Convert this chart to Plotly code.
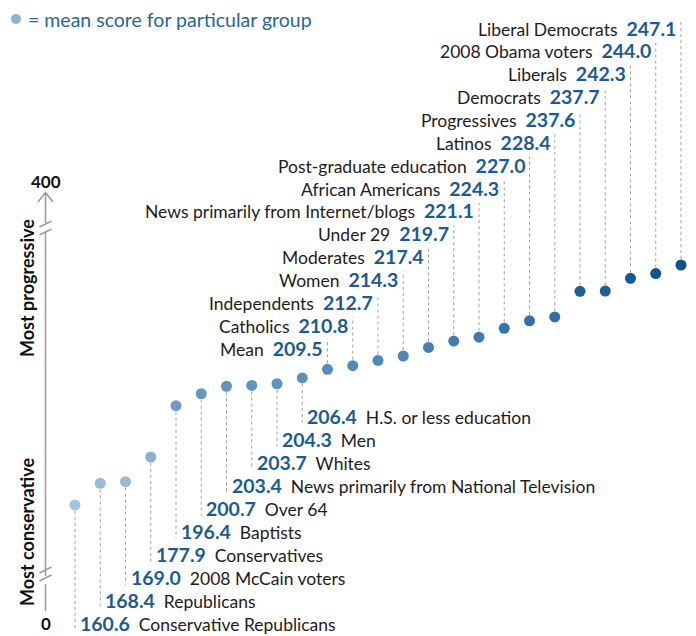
import plotly.graph_objects as go

# ─── Data ─────────────────────────────────────────────────────────────────────

GROUPS = [
    "Conservative Republicans", "Republicans", "2008 McCain voters",
    "Conservatives", "Baptists", "Over 64", "News primarily from National Television",
    "Whites", "Men", "H.S. or less education", "Mean", "Catholics",
    "Independents", "Women", "Moderates", "Under 29",
    "News primarily from Internet/blogs", "African Americans",
    "Post-graduate education", "Latinos", "Progressives", "Democrats",
    "Liberals", "2008 Obama voters", "Liberal Democrats",
]
SCORES = [
    160.6, 168.4, 169.0, 177.9, 196.4, 200.7, 203.4, 203.7, 204.3, 206.4,
    209.5, 210.8, 212.7, 214.3, 217.4, 219.7, 221.1, 224.3, 227.0, 228.4,
    237.6, 237.7, 242.3, 244.0, 247.1,
]
AXIS_TICKS = ["0", "400"]
AXIS_TITLES = ["Most conservative", "Most progressive"]
N_BELOW = 10  # groups labelled under their dot (the rest are labelled above)

# ─── Styling / layout ────────────────────────────────────────────────────────

PAGE_W, PAGE_H = 696, 636
OFF = 8  # default body margin of the html page
W, H = PAGE_W - OFF, PAGE_H - OFF
BLUE = "#1b5b91"
INK = "#1e1b1c"
GREY = "#a0a0a0"
FONT = "Lato, Open Sans, sans-serif"

# page pixel -> data mapping (plot area fills the whole figure)
X0_PX, DX_PX = 75, 25.25
Y_REF, Y_REF_PX, K = 160.6, 505, 240 / 86.5


def fx(p):
    return (p - OFF) / W


def fy(p):
    return 1 - (p - OFF) / H


def xdata(p):
    return (p - X0_PX) / DX_PX


def ydata(p):
    return Y_REF + (Y_REF_PX - p) / K


x_range = [xdata(OFF), xdata(PAGE_W)]
y_range = [ydata(PAGE_H), ydata(OFF)]

xs = list(range(len(SCORES)))

fig = go.Figure()

shapes = []
annotations = []


def value_span(val):
    return f"<b><span style='color:{BLUE};font-size:19.5px'>{val:.1f}</span></b>"


# ─── Leader lines + labels ───────────────────────────────────────────────────
for i in xs:
    label, val = GROUPS[i], SCORES[i]
    if i < N_BELOW:
        row = 416.7 + (N_BELOW - 1 - i) * 23.03
        y_end = ydata(row + 7)
        txt = f"{value_span(val)}&nbsp;&nbsp;{label}"
        xanchor, xshift = "left", 3
    else:
        row = 28 + (len(SCORES) - 1 - i) * 22.86
        y_end = ydata(row - 8)
        txt = f"{label}&nbsp;&nbsp;{value_span(val)}"
        xanchor, xshift = "right", -3
    shapes.append(dict(type="line", xref="x", yref="y", x0=i, x1=i,
                       y0=val, y1=y_end,
                       line=dict(color=GREY, width=1, dash="dot"), layer="below"))
    annotations.append(dict(x=i, y=ydata(row), xref="x", yref="y", text=txt,
                            showarrow=False, xanchor=xanchor, yanchor="middle",
                            xshift=xshift,
                            font=dict(size=17.5, color=INK, family=FONT)))

# ─── Dots ────────────────────────────────────────────────────────────────────
fig.add_trace(go.Scatter(
    x=xs, y=SCORES, mode="markers", hoverinfo="text",
    text=[f"{g}: {s:.1f}" for g, s in zip(GROUPS, SCORES)],
    marker=dict(size=11, color=SCORES,
                colorscale=[[0, "#a3c4de"], [0.55, "#5a8fbb"], [1, "#0b4f8c"]],
                line=dict(width=0)),
))

# ─── Broken y axis (drawn by hand) ───────────────────────────────────────────
ax_line = dict(color="#9a9a9a", width=1.5)
for y0, y1 in [(193, 223), (231, 576), (584, 611)]:
    shapes.append(dict(type="line", xref="paper", yref="paper",
                       x0=fx(45.5), x1=fx(45.5), y0=fy(y0), y1=fy(y1), line=ax_line))
shapes.append(dict(type="path", xref="paper", yref="paper",
                   path=f"M {fx(38)},{fy(202)} L {fx(45.5)},{fy(192.5)} L {fx(53)},{fy(202)}",
                   line=ax_line))
for yb in (227, 235, 573, 581):
    shapes.append(dict(type="line", xref="paper", yref="paper",
                       x0=fx(39.5), x1=fx(51.5), y0=fy(yb), y1=fy(yb - 6), line=ax_line))

for txt, yp in zip(AXIS_TICKS, (623, 181)):
    annotations.append(dict(x=fx(45.5), y=fy(yp), xref="paper", yref="paper",
                            text=f"<b>{txt}</b>", showarrow=False,
                            xanchor="center", yanchor="middle",
                            font=dict(size=17, color="#111111", family=FONT)))
for txt, yp in zip(AXIS_TITLES, (532, 288)):
    annotations.append(dict(x=fx(27), y=fy(yp), xref="paper", yref="paper",
                            text=f"<b>{txt}</b>", showarrow=False, textangle=-90,
                            xanchor="center", yanchor="middle",
                            font=dict(size=18, color="#111111", family=FONT)))

# ─── Key ─────────────────────────────────────────────────────────────────────
shapes.append(dict(type="circle", xref="paper", yref="paper",
                   x0=fx(11), x1=fx(21), y0=fy(14), y1=fy(24),
                   fillcolor="#8fb2cf", line=dict(width=0)))
annotations.append(dict(x=fx(27), y=fy(20), xref="paper", yref="paper",
                        text="= mean score for particular group", showarrow=False,
                        xanchor="left", yanchor="middle", borderpad=0,
                        font=dict(size=19.5, color="#2a6597", family=FONT)))

fig.update_layout(
    width=W, height=H,
    margin=dict(t=0, b=0, l=0, r=0),
    paper_bgcolor="white", plot_bgcolor="white",
    showlegend=False,
    shapes=shapes, annotations=annotations,
    font=dict(family=FONT),
)
fig.update_xaxes(range=x_range, visible=False, fixedrange=True)
fig.update_yaxes(range=y_range, visible=False, fixedrange=True)

fig.write_html("out.html")
